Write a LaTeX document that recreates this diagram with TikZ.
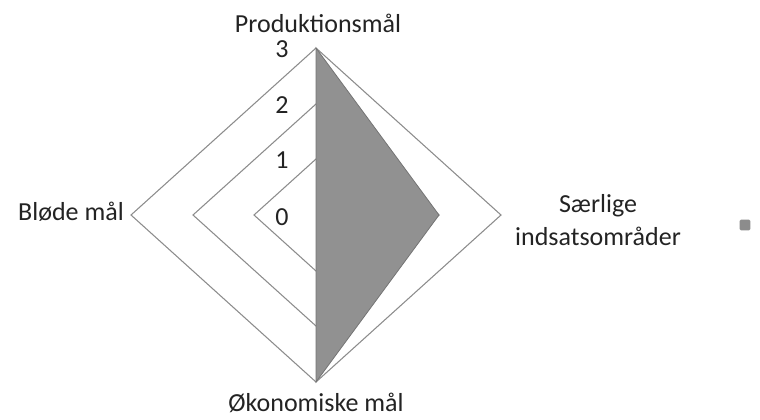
\documentclass[tikz,border=0pt]{standalone}
\usepackage{fontspec}
\setmainfont{Carlito}
\definecolor{txt}{RGB}{35,35,35}
\definecolor{grid}{RGB}{140,140,140}
\definecolor{fillg}{RGB}{145,145,145}
\begin{document}
\begin{tikzpicture}[x=0.75pt,y=-0.75pt,
  lbl/.style={font=\fontsize{19.5}{25}\selectfont, text=txt, inner sep=0pt},
  ring/.style={draw=grid, line width=0.8pt},
  serie/.style={fill=fillg, draw=fillg!80!black, line width=0.6pt}]
\useasboundingbox (0,0) rectangle (760,419);
% center and vertices
\coordinate (c) at (316,215);
\coordinate (t3) at (316,48);  \coordinate (r3) at (501,215);
\coordinate (b3) at (316,382); \coordinate (l3) at (131,215);
\coordinate (t2) at (316,104); \coordinate (r2) at (439,215);
\coordinate (b2) at (316,326); \coordinate (l2) at (193,215);
\coordinate (t1) at (316,159); \coordinate (r1) at (378,215);
\coordinate (b1) at (316,271); \coordinate (l1) at (254,215);
% grid rings
\draw[ring] (t3) -- (r3) -- (b3) -- (l3) -- cycle;
\draw[ring] (t2) -- (r2) -- (b2) -- (l2) -- cycle;
\draw[ring] (t1) -- (r1) -- (b1) -- (l1) -- cycle;
% data series
\draw[serie] (t3) -- (r2) -- (b3) -- (c) -- cycle;
% axis labels
\node[lbl, anchor=base] (n3) at (282,57) {3};
\node[lbl, anchor=base] (n2) at (282,113) {2};
\node[lbl, anchor=base] (n1) at (282,168) {1};
\node[lbl, anchor=base] (n0) at (282,225) {0};
% category labels
\node[lbl, anchor=base] (prod) at (318,32) {Produktionsmål};
\node[lbl, anchor=base east] (blod) at (124,220) {Bløde mål};
\node[lbl, align=center] (saer) at (598,220) {Særlige\\indsatsområder};
\node[lbl, anchor=base] (oek) at (316,411) {Økonomiske mål};
% legend marker
\node[fill=grid, minimum size=8pt, inner sep=0pt, rounded corners=1pt] (leg) at (745,225) {};
\end{tikzpicture}
\end{document}
